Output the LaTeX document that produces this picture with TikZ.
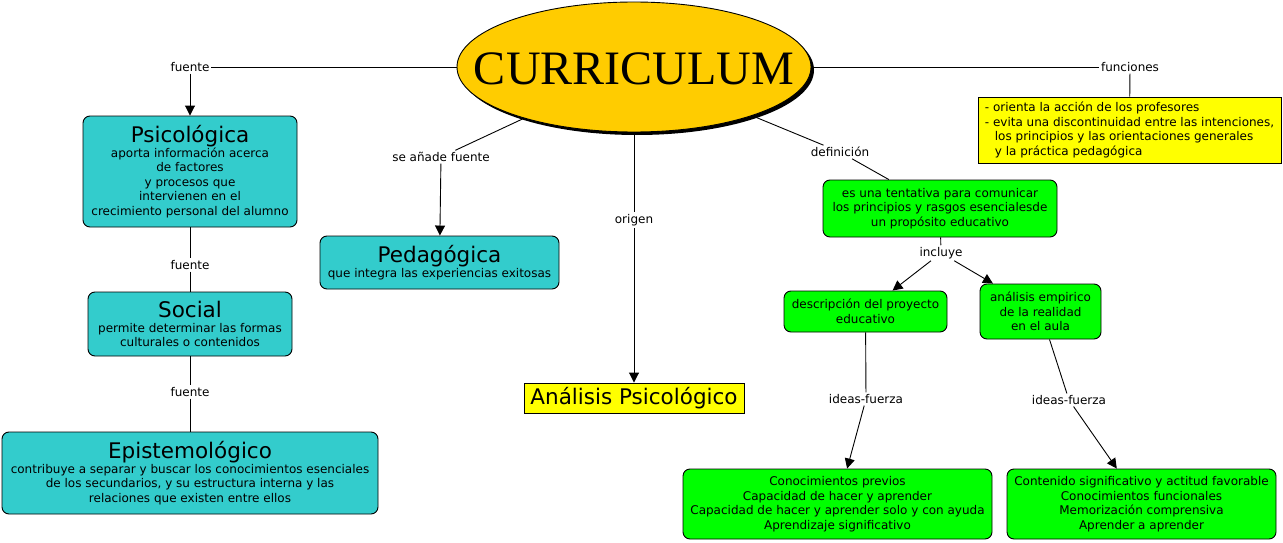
\documentclass[tikz,border=0pt]{standalone}
\usepackage{fontspec}
\setmainfont{DejaVu Sans}
\newfontfamily\curfont{Liberation Serif}
\usetikzlibrary{arrows.meta,shapes.geometric,shadows}
\definecolor{tealc}{RGB}{51,204,204}
\definecolor{goldc}{RGB}{255,204,0}
\definecolor{greenc}{RGB}{0,255,0}
\definecolor{yellowc}{RGB}{255,255,0}
\newcommand{\ttl}{\fontsize{21.5}{25}\selectfont}
\tikzset{
  box/.style={draw, line width=0.9pt, rounded corners=7pt, align=center, inner sep=1pt},
  tealbox/.style={box, fill=tealc},
  greenbox/.style={box, fill=greenc},
  linkword/.style={inner sep=1.5pt},
  arr/.style={-{Triangle[length=10pt,width=10pt]}},
}
\begin{document}
\begin{tikzpicture}[x=1pt,y=-1pt,font=\fontsize{12}{14.5}\selectfont,line width=0.9pt]
\useasboundingbox (0,0) rectangle (1283,543);

%Curriculum
\node[ellipse, draw, fill=goldc, minimum width=354, minimum height=130, inner sep=0pt,
  drop shadow={shadow xshift=3pt, shadow yshift=-3pt, fill=black, opacity=1}] (cur) at (634,67) {};
\node[font=\curfont\fontsize{48}{50}\selectfont] (curtext) at (634,69) {CURRICULUM};

%Fuentes
\node[linkword] (lfuente1) at (190,67) {fuente};
\node[tealbox, minimum width=214, minimum height=111] (psico) at (190,171.5)
  {{\ttl Psicológica}\\aporta información acerca\\de factores\\y procesos que\\intervienen en el\\crecimiento personal del alumno};
\node[linkword] (lfuente2) at (190,265) {fuente};
\node[tealbox, minimum width=204, minimum height=64] (social) at (190,324)
  {{\ttl Social}\\permite determinar las formas\\culturales o contenidos};
\node[linkword] (lfuente3) at (190,392) {fuente};
\node[tealbox, minimum width=376, minimum height=82] (episte) at (190,473)
  {{\ttl Epistemológico}\\contribuye a separar y buscar los conocimientos esenciales\\de los secundarios, y su estructura interna y las\\relaciones que existen entre ellos};
\draw (cur) -- (lfuente1);
\draw[arr] (lfuente1) -- (psico);
\draw (psico) -- (lfuente2);
\draw (lfuente2) -- (social);
\draw (social) -- (lfuente3);
\draw (lfuente3) -- (episte);

%Pedagogica y origen
\node[linkword] (lanade) at (441,157) {se añade fuente};
\node[tealbox, minimum width=239, minimum height=53] (pedag) at (439.5,262.5)
  {{\ttl Pedagógica}\\que integra las experiencias exitosas};
\node[linkword] (lorigen) at (634,220) {origen};
\node[draw, fill=yellowc, minimum width=220, minimum height=30, inner sep=1pt, font=\ttl] (analisis) at (634,398) {Análisis Psicológico};
\draw (cur) -- (lanade);
\draw[arr] (lanade) -- (pedag);
\draw (cur) -- (lorigen);
\draw[arr] (lorigen) -- (analisis);

%Funciones
\node[linkword] (lfunc) at (1130,67) {funciones};
\node[draw, fill=yellowc, align=left, minimum width=303, minimum height=66, inner sep=1pt] (funcs) at (1129.5,130)
  {- orienta la acción de los profesores\\- evita una discontinuidad entre las intenciones,\\\hspace*{10pt}los principios y las orientaciones generales\\\hspace*{10pt}y la práctica pedagógica};
\draw (cur) -- (lfunc);
\draw (lfunc) -- (funcs);

%Definicion
\node[linkword] (ldefin) at (840,152) {definición};
\node[greenbox, minimum width=234, minimum height=57] (defin) at (940,208.5)
  {es una tentativa para comunicar\\los principios y rasgos esencialesde\\un propósito educativo};
\node[linkword] (lincluye) at (941,253) {incluye};
\node[greenbox, minimum width=163, minimum height=41] (desc) at (865.5,311.5)
  {descripción del proyecto\\educativo};
\node[greenbox, minimum width=121, minimum height=55] (empir) at (1040.5,311.5)
  {análisis empirico\\de la realidad\\en el aula};
\node[linkword] (lidea1) at (866,399) {ideas-fuerza};
\node[linkword] (lidea2) at (1069,400) {ideas-fuerza};
\node[greenbox, minimum width=309, minimum height=70] (conoc) at (837.5,504)
  {Conocimientos previos\\Capacidad de hacer y aprender\\Capacidad de hacer y aprender solo y con ayuda\\Aprendizaje significativo};
\node[greenbox, minimum width=269, minimum height=70] (conten) at (1141.5,504)
  {Contenido significativo y actitud favorable\\Conocimientos funcionales\\Memorización comprensiva\\Aprender a aprender};
\draw (cur) -- (ldefin);
\draw (ldefin) -- (defin);
\draw (defin) -- (lincluye);
\draw[arr] (lincluye) -- (desc);
\draw[arr] (lincluye) -- (empir);
\draw (desc) -- (lidea1);
\draw[arr] (lidea1) -- (conoc);
\draw (empir) -- (lidea2);
\draw[arr] (lidea2) -- (conten);

\end{tikzpicture}
\end{document}
